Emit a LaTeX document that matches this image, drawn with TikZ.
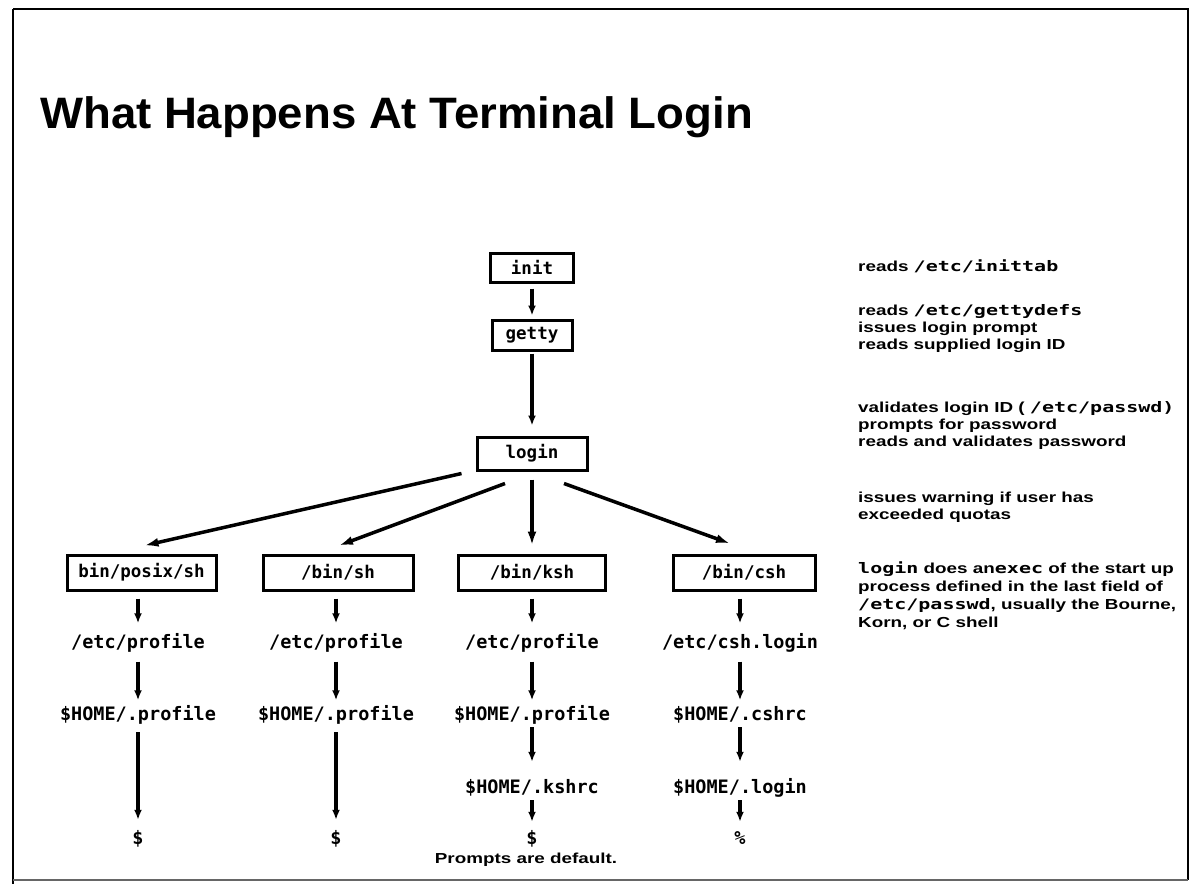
\documentclass[tikz,border=0pt]{standalone}
\usepackage{fontspec}
\usetikzlibrary{arrows.meta}
\newfontfamily\titlefont[FakeStretch=1.035]{Liberation Sans Bold}
\newfontfamily\notefont[FakeStretch=1.3]{Liberation Sans Bold}
\newfontfamily\codefont{DejaVu Sans Mono Bold}
\newfontfamily\notecodefont[FakeStretch=1.38]{DejaVu Sans Mono Bold}
\newcommand{\nc}[1]{{\notecodefont #1}}
\begin{document}
\begin{tikzpicture}[x=1pt,y=-1pt,
  box/.style={draw, line width=3pt, inner sep=0pt, font=\codefont\fontsize{17.5}{20}\selectfont},
  lbl/.style={inner sep=0pt, text height=13pt, text depth=0pt, font=\codefont\fontsize{18.5}{20}\selectfont},
  note/.style={anchor=base west, inner sep=0pt, font=\notefont\fontsize{14.5}{17}\selectfont},
  arr/.style={line width=3.5pt, -{Latex[length=10pt,width=8pt]}},
  fan/.style={line width=3.5pt, -{Latex[length=14pt,width=9pt]}}
]
\useasboundingbox (0,0) rectangle (1199,884);
\fill[white] (0,0) rectangle (1199,884);
% frame
\draw[line width=2.5pt] (13,9) -- (1188,9) -- (1188,880);
\draw[line width=2.5pt] (13,9) -- (13,884);
\draw[line width=1.5pt, black!60] (13,880) -- (1188,880);

% title
\node[anchor=base west, inner sep=0pt, font=\titlefont\fontsize{44}{50}\selectfont] (title) at (40,128) {What Happens At Terminal Login};

% top chain
\node[box, minimum width=83pt, minimum height=29pt] (init) at (532,267.5) {init};
\node[box, minimum width=80pt, minimum height=30pt] (getty) at (532,335) {getty};
\node[box, minimum width=110pt, minimum height=33pt] (login) at (532,453.5) {login};

\draw[arr, shorten <=5pt, shorten >=3pt] (init.south) -- (getty.north);
\draw[arr, shorten <=2pt, shorten >=10pt] (getty.south) -- (login.north);

% shell boxes
\node[box, minimum width=149pt, minimum height=35pt] (posix) at (141.5,572.5) {bin/posix/sh};
\node[box, minimum width=150pt, minimum height=35pt] (sh) at (338,572.5) {/bin/sh};
\node[box, minimum width=147pt, minimum height=35pt] (ksh) at (532,572.5) {/bin/ksh};
\node[box, minimum width=142pt, minimum height=35pt] (csh) at (744,572.5) {/bin/csh};

% fan arrows
\draw[fan] ([xshift=-14pt,yshift=-2pt]login.south west) -- ([xshift=3pt,yshift=8pt]posix.north);
\draw[fan] ([xshift=-27pt,yshift=-12pt]login.south) -- ([xshift=1pt,yshift=8pt]sh.north);
\draw[fan] ([yshift=-8pt]login.south) -- ([yshift=8pt]ksh.north);
\draw[fan] ([xshift=32pt,yshift=-12pt]login.south) -- ([xshift=-14pt,yshift=10pt]csh.north);

% column 1
\node[lbl] (p1) at (138,642) {/etc/profile};
\node[lbl] (h1) at (138,714) {\$HOME/.profile};
\node[lbl] (d1) at (138,838) {\$};
% column 2
\node[lbl] (p2) at (336,642) {/etc/profile};
\node[lbl] (h2) at (336,714) {\$HOME/.profile};
\node[lbl] (d2) at (336,838) {\$};
% column 3
\node[lbl] (p3) at (532,642) {/etc/profile};
\node[lbl] (h3) at (532,714) {\$HOME/.profile};
\node[lbl] (k3) at (532,787) {\$HOME/.kshrc};
\node[lbl] (d3) at (532,838) {\$};
\node[inner sep=0pt, font=\notefont\fontsize{14.5}{17}\selectfont] (pn) at (526,860) {Prompts are default.};
% column 4
\node[lbl] (c4) at (740,642) {/etc/csh.login};
\node[lbl] (r4) at (740,714) {\$HOME/.cshrc};
\node[lbl] (l4) at (740,787) {\$HOME/.login};
\node[lbl] (d4) at (740,838) {\%};

% column arrows
\draw[arr, shorten <=7pt, shorten >=12pt] (posix.south -| p1.north) -- (p1.north);
\draw[arr, shorten <=7pt, shorten >=12pt] (sh.south -| p2.north) -- (p2.north);
\draw[arr, shorten <=7pt, shorten >=12pt] (ksh.south -| p3.north) -- (p3.north);
\draw[arr, shorten <=7pt, shorten >=12pt] (csh.south -| c4.north) -- (c4.north);

\draw[arr, shorten <=13pt, shorten >=7pt] (p1.south) -- (h1.north);
\draw[arr, shorten <=13pt, shorten >=7pt] (p2.south) -- (h2.north);
\draw[arr, shorten <=13pt, shorten >=7pt] (p3.south) -- (h3.north);
\draw[arr, shorten <=13pt, shorten >=7pt] (c4.south) -- (r4.north);

\draw[arr, shorten <=11.5pt, shorten >=11.5pt] (h1.south) -- (d1.north);
\draw[arr, shorten <=11.5pt, shorten >=11.5pt] (h2.south) -- (d2.north);

\draw[arr, shorten <=6.5pt, shorten >=18.5pt] (h3.south) -- (k3.north);
\draw[arr, shorten <=6.5pt, shorten >=18.5pt] (r4.south) -- (l4.north);
\draw[arr, shorten <=6.5pt, shorten >=9.5pt] (k3.south) -- (d3.north);
\draw[arr, shorten <=6.5pt, shorten >=9.5pt] (l4.south) -- (d4.north);

% notes
\node[note] (n1) at (858,271) {reads \nc{/etc/inittab}};
\node[note] (n2) at (858,315) {reads \nc{/etc/gettydefs}};
\node[note] (n3) at (858,332) {issues login prompt};
\node[note] (n4) at (858,349) {reads supplied login ID};
\node[note] (n5) at (858,412) {validates login ID ( \nc{/etc/passwd)}};
\node[note] (n6) at (858,429) {prompts for password};
\node[note] (n7) at (858,446) {reads and validates password};
\node[note] (n8) at (858,502) {issues warning if user has};
\node[note] (n9) at (858,519) {exceeded quotas};
\node[note] (n10) at (858,573) {\nc{login} does an\nc{exec} of the start up};
\node[note] (n11) at (858,591) {process defined in the last field of};
\node[note] (n12) at (858,609) {\nc{/etc/passwd}, usually the Bourne,};
\node[note] (n13) at (858,627) {Korn, or C shell};
\end{tikzpicture}
\end{document}
